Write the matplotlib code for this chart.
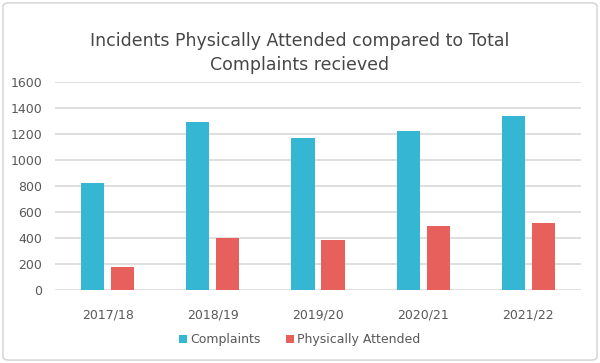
import numpy as np
import matplotlib.pyplot as plt
from matplotlib.patches import FancyBboxPatch

years = ['2017/18', '2018/19', '2019/20', '2020/21', '2021/22']
complaints = [820, 1295, 1170, 1225, 1335]
attended = [180, 400, 385, 495, 518]

blue = '#35B7D4'
red = '#E8605C'
grey = '#595959'

fig = plt.figure(figsize=(6, 3.63), dpi=100)
ax = fig.add_axes([55/600, 1 - 290/363, 526/600, 208/363])

x = np.arange(len(years))
w = 0.22
gap = 0.065
ax.bar(x - (w + gap)/2, complaints, w, color=blue, label='Complaints', zorder=3)
ax.bar(x + (w + gap)/2, attended, w, color=red, label='Physically Attended', zorder=3)

ax.set_xlim(-0.5, len(years) - 0.5)
ax.set_ylim(0, 1600)
ax.set_yticks(range(0, 1601, 200))
ax.set_xticks(x)
ax.set_xticklabels(years)
ax.yaxis.grid(True, color='#D9D9D9', lw=1.2, zorder=0)
for s in ax.spines.values():
    s.set_visible(False)
ax.tick_params(length=0, colors=grey, labelsize=9)
ax.tick_params(axis='x', pad=13)
ax.tick_params(axis='y', pad=9)

fig.text(0.5, 1 - 53/363, 'Incidents Physically Attended compared to Total\nComplaints recieved',
         ha='center', va='center', fontsize=12.5, color='#474747', linespacing=1.45)

leg = fig.legend(loc='center', bbox_to_anchor=(0.5, 1 - 340/363), ncol=2, frameon=False,
                 fontsize=9, handlelength=0.6, handleheight=0.6, handletextpad=0.3,
                 columnspacing=2.0, labelcolor=grey)

fig.patches.append(FancyBboxPatch((0.005, 0.008), 0.99, 0.984, boxstyle='round,pad=0,rounding_size=0.01',
                                  transform=fig.transFigure, fill=False, edgecolor='#D9D9D9', lw=1.2))

fig.savefig('out.png', dpi=100)
